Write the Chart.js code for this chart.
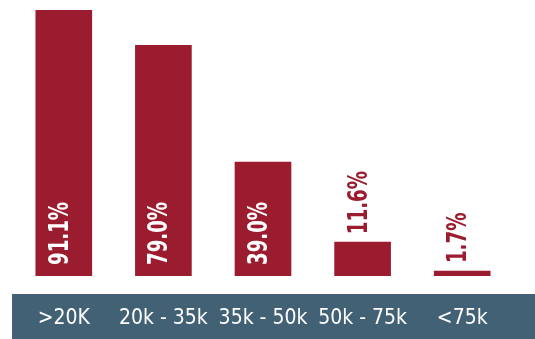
<!DOCTYPE html>
<html>
<head>
<meta charset="utf-8">
<script src="https://cdn.jsdelivr.net/npm/chart.js@4"></script>
<style>
  html, body { margin:0; padding:0; background:#fff; }
  #wrap { width:535px; height:339px; position:relative; }
</style>
</head>
<body>
<div id="wrap"><canvas id="chart"></canvas></div>
<script>
// ---- data ----
const categories = ['>20K', '20k - 35k', '35k - 50k', '50k - 75k', '<75k'];
const shares     = [91.1, 79.0, 39.0, 11.6, 1.7];
const valueLabels = ['91.1%', '79.0%', '39.0%', '11.6%', '1.7%'];

const BAR_RED = '#9b1c2e';
const BAND    = '#426175';
const FONT    = "'Liberation Sans Narrow', 'DejaVu Sans Condensed', 'Roboto', sans-serif";

// blue band behind the category labels
const bandPlugin = {
  id: 'band',
  beforeDraw(chart) {
    const ctx = chart.ctx;
    ctx.save();
    ctx.fillStyle = BAND;
    ctx.fillRect(12, 294, chart.width - 12, chart.height - 294);
    ctx.restore();
  }
};

// rotated value labels: inside tall bars, above short ones
const valuePlugin = {
  id: 'values',
  afterDatasetsDraw(chart) {
    const ctx = chart.ctx;
    const meta = chart.getDatasetMeta(0);
    ctx.save();
    ctx.font = "bold 27px " + FONT;
    ctx.textBaseline = 'middle';
    ctx.textAlign = 'left';
    meta.data.forEach((bar, i) => {
      const h = bar.base - bar.y;
      const w = ctx.measureText(valueLabels[i]).width;
      // squeeze to the narrow look of the original (≈2.3 x font size for "91.1%")
      const sx = Math.min(1, (valueLabels[i].length * 12.6) / w);
      let y, color;
      if (h > 80) { y = bar.base - 11; color = '#ffffff'; }
      else        { y = bar.y - 8;     color = BAR_RED; }
      ctx.save();
      ctx.translate(bar.x - 3, y);
      ctx.rotate(-Math.PI / 2);
      ctx.scale(sx, 1);
      ctx.fillStyle = color;
      ctx.fillText(valueLabels[i], 0, 0);
      ctx.restore();
    });
    ctx.restore();
  }
};

new Chart(document.getElementById('chart'), {
  type: 'bar',
  data: {
    labels: categories,
    datasets: [{
      data: shares,
      backgroundColor: BAR_RED,
      borderWidth: 0,
      barThickness: 56
    }]
  },
  options: {
    responsive: true,
    maintainAspectRatio: false,
    animation: false,
    layout: { padding: { top: 10, left: 14, right: 23, bottom: 0 } },
    plugins: { legend: { display: false }, tooltip: { enabled: false } },
    scales: {
      x: {
        grid: { display: false },
        border: { display: false },
        ticks: {
          color: '#ffffff',
          font: { family: FONT, size: 21 },
          padding: 22,
          maxRotation: 0,
          autoSkip: false
        },
        afterFit(scale) { scale.height = 63; }
      },
      y: {
        display: false,
        min: 0,
        max: 91.1
      }
    }
  },
  plugins: [bandPlugin, valuePlugin]
});
</script>
</body>
</html>
